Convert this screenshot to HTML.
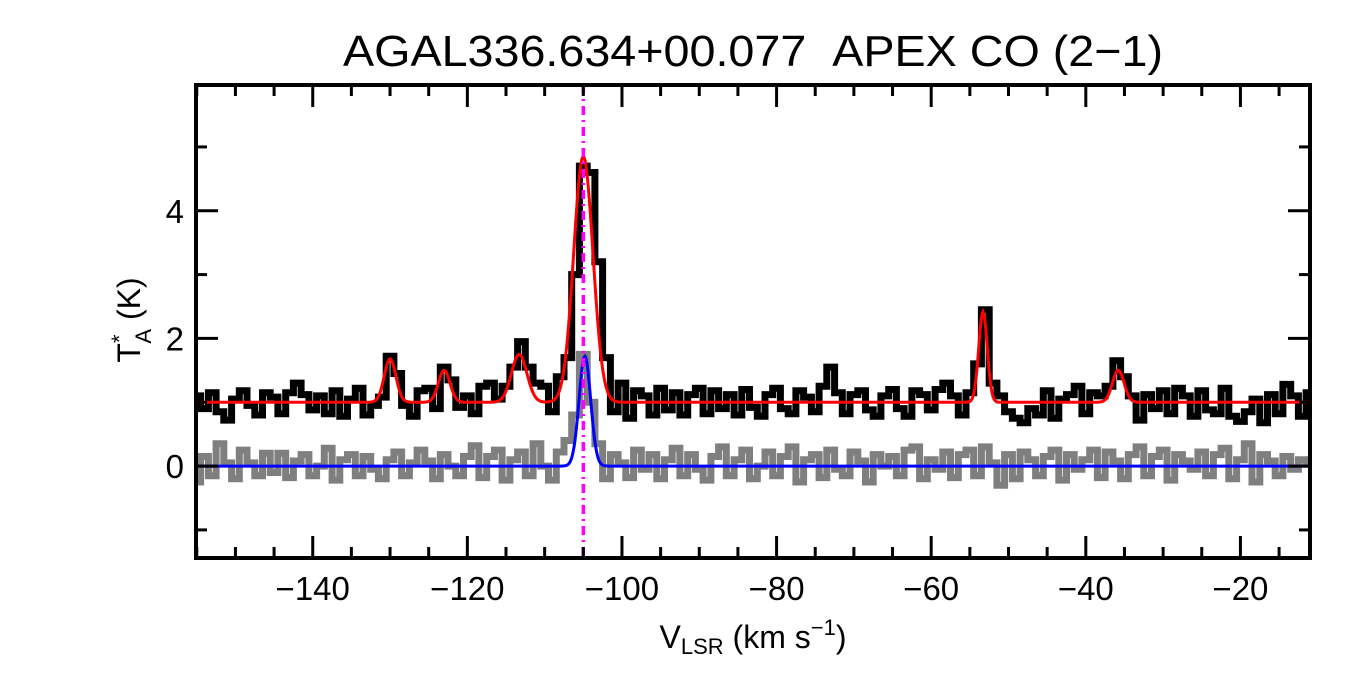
<!DOCTYPE html>
<html><head><meta charset="utf-8"><style>
html,body{margin:0;padding:0;background:#fff;}
svg{display:block;font-family:"Liberation Sans",sans-serif;}
</style></head><body>
<svg id="chart" width="1350" height="675" viewBox="0 0 1350 675">
<text x="753" y="66" font-size="44" text-anchor="middle" textLength="820" lengthAdjust="spacingAndGlyphs">AGAL336.634+00.077&#160;&#160;APEX CO (2−1)</text>
<g id="series"></g>
<g id="axes"></g>
<text transform="translate(140,320) rotate(-90)" font-size="32" text-anchor="middle">T<tspan font-size="22" dy="-13">*</tspan><tspan font-size="22" dx="-9" dy="24">A</tspan><tspan dy="-11"> (K)</tspan></text>
<text x="753" y="648" font-size="32" text-anchor="middle">V<tspan font-size="22" dy="6">LSR</tspan><tspan dy="-6"> (km s</tspan><tspan font-size="22" dy="-13">−1</tspan><tspan dy="13">)</tspan></text>
</svg>
<script>
const vStart = -155, vStep = 1;
const coSpectrum = [
1.10,0.90,1.15,0.85,0.72,1.05,1.18,0.95,0.80,1.15,
1.08,0.82,1.15,1.30,1.12,0.88,1.10,0.82,1.18,0.78,
1.05,1.22,0.80,0.95,1.08,1.72,1.45,0.95,0.78,1.18,
1.22,0.90,1.55,1.35,0.92,1.10,0.82,1.25,1.30,1.05,
1.25,1.55,1.95,1.55,1.30,1.25,0.85,1.40,1.70,3.00,
4.70,4.60,3.20,1.70,0.85,1.30,0.75,1.18,1.10,0.80,
1.22,0.88,1.15,0.80,1.12,1.22,0.82,1.18,0.90,1.12,
0.80,1.20,0.92,0.78,1.12,1.22,0.90,0.82,1.18,1.08,
0.85,1.25,1.55,1.15,0.82,1.12,1.18,0.88,0.78,1.10,
1.20,0.90,0.78,1.18,1.12,0.88,1.20,1.30,1.10,0.80,
1.15,1.60,2.45,1.30,1.10,0.85,0.75,0.68,0.90,0.80,
1.18,0.75,1.05,1.12,1.25,0.82,1.15,1.10,1.25,1.65,
1.40,1.10,0.72,1.12,0.90,1.18,0.82,1.22,1.10,0.78,
1.18,0.88,0.82,1.22,0.78,0.70,0.85,1.05,0.68,1.12,
0.82,1.28,1.10,0.78,1.15];
const isoSpectrum = [
-0.25,0.15,-0.15,0.35,0.05,-0.20,0.25,0.05,-0.15,0.20,
-0.10,0.20,-0.18,0.08,0.18,-0.15,0.00,0.28,-0.22,0.10,
0.18,-0.15,0.15,-0.05,-0.20,0.10,0.22,-0.15,0.05,0.25,
0.08,-0.20,0.18,0.00,-0.15,0.15,0.32,-0.18,0.15,0.25,
-0.22,0.10,0.22,-0.15,0.35,0.00,-0.22,0.22,0.40,0.80,
1.75,1.00,0.35,-0.20,0.18,0.05,-0.18,0.25,-0.05,0.18,
-0.20,0.10,0.28,-0.15,0.18,-0.05,-0.22,0.15,0.30,-0.15,
0.10,0.25,-0.20,0.00,0.22,-0.15,0.15,0.30,-0.25,0.10,
0.18,-0.18,0.25,-0.05,-0.15,0.22,0.08,-0.25,0.18,0.00,
0.15,-0.15,0.25,0.30,-0.20,0.10,-0.05,0.22,-0.18,0.18,
0.25,-0.15,0.30,0.05,-0.30,0.18,-0.20,0.22,0.10,-0.15,
0.15,0.25,-0.22,0.18,-0.05,0.10,0.25,-0.18,0.22,0.08,
-0.20,0.18,0.30,-0.15,0.15,0.25,-0.22,0.18,0.08,-0.05,
0.22,-0.15,0.18,0.28,-0.20,0.10,0.35,-0.25,0.18,0.08,
-0.15,0.15,-0.05,0.10,0.05];
const redBaseline = 1.0;
const redCenters = [-130,-123,-113.3,-105,-53.3,-35.8];
const redAmps = [0.68,0.5,0.75,3.85,1.42,0.5];
const redSigmas = [0.75,0.75,1.0,1.25,0.55,0.75];
const blueCenters = [-104.8];
const blueAmps = [1.72];
const blueSigmas = [0.75];
const markerVelocity = -105;
const xTicks = [-140,-120,-100,-80,-60,-40,-20];
const yTicks = [0,2,4];

const L=196,R=1310,T=85,B=558, xMin=-155.1, xMax=-11.0, yMin=-1.44, yMax=5.97;
const X=v=>L+(v-xMin)/(xMax-xMin)*(R-L);
const Y=t=>B-(t-yMin)/(yMax-yMin)*(B-T);
const NS="http://www.w3.org/2000/svg";
const series=document.getElementById('series'), axes=document.getElementById('axes');
function mk(tag,attrs,parent){const e=document.createElementNS(NS,tag);for(const k in attrs)e.setAttribute(k,attrs[k]);parent.appendChild(e);return e;}
function stepPath(arr){let d='';arr.forEach((t,i)=>{const v0=vStart+i*vStep-vStep/2,v1=v0+vStep;const x0=Math.max(X(v0),L),x1=Math.min(X(v1),R);d+=(i?'L':'M')+x0.toFixed(1)+','+Y(t).toFixed(1)+'L'+x1.toFixed(1)+','+Y(t).toFixed(1);});return d;}
function gaussPath(base,c,a,s){let d='';for(let px=L;px<=R;px+=1){const v=xMin+(px-L)/(R-L)*(xMax-xMin);let t=base;for(let k=0;k<c.length;k++)t+=a[k]*Math.exp(-0.5*((v-c[k])/s[k])**2);d+=(px===L?'M':'L')+px+','+Y(t).toFixed(1);}return d;}
const g1=mk('path',{d:stepPath(isoSpectrum),fill:'none',stroke:'#7f7f7f','stroke-width':7,'stroke-linejoin':'miter'},series);


const b1=mk('path',{d:stepPath(coSpectrum),fill:'none',stroke:'#000','stroke-width':7,'stroke-linejoin':'miter'},series);


const r1=mk('path',{d:gaussPath(redBaseline,redCenters,redAmps,redSigmas),fill:'none',stroke:'#ff0000','stroke-width':3},series);


const bl=mk('path',{d:gaussPath(0,blueCenters,blueAmps,blueSigmas),fill:'none',stroke:'#0000ff','stroke-width':3},series);


const mv=mk('line',{x1:X(markerVelocity),x2:X(markerVelocity),y1:T,y2:B,stroke:'#ff00ff','stroke-width':3.5,'stroke-dasharray':'9,5,2,5'},series);


const fr=mk('rect',{x:L,y:T,width:R-L,height:B-T,fill:'none',stroke:'#000','stroke-width':4},axes);


for(let v=-155;v<=-11;v+=5){const major=xTicks.includes(v);const len=major?22:11;
 const t1=mk('line',{x1:X(v),x2:X(v),y1:B,y2:B-len,stroke:'#000','stroke-width':3},axes);
 
 
 const t2=mk('line',{x1:X(v),x2:X(v),y1:T,y2:T+len,stroke:'#000','stroke-width':3},axes);
 
 }
xTicks.forEach(v=>{const t=mk('text',{x:X(v),y:600,'font-size':33,'text-anchor':'middle'},axes);t.textContent=v<0?'−'+(-v):String(v);
 
 });
for(let t=-1;t<=5;t++){const major=yTicks.includes(t);const len=major?22:11;
 const a=mk('line',{x1:L,x2:L+len,y1:Y(t),y2:Y(t),stroke:'#000','stroke-width':3},axes);
 
 
 const b=mk('line',{x1:R,x2:R-len,y1:Y(t),y2:Y(t),stroke:'#000','stroke-width':3},axes);
 
 }
yTicks.forEach(t=>{const e=mk('text',{x:184,y:Y(t)+12,'font-size':33,'text-anchor':'end'},axes);e.textContent=String(t);
 
 });
</script>
</body></html>
